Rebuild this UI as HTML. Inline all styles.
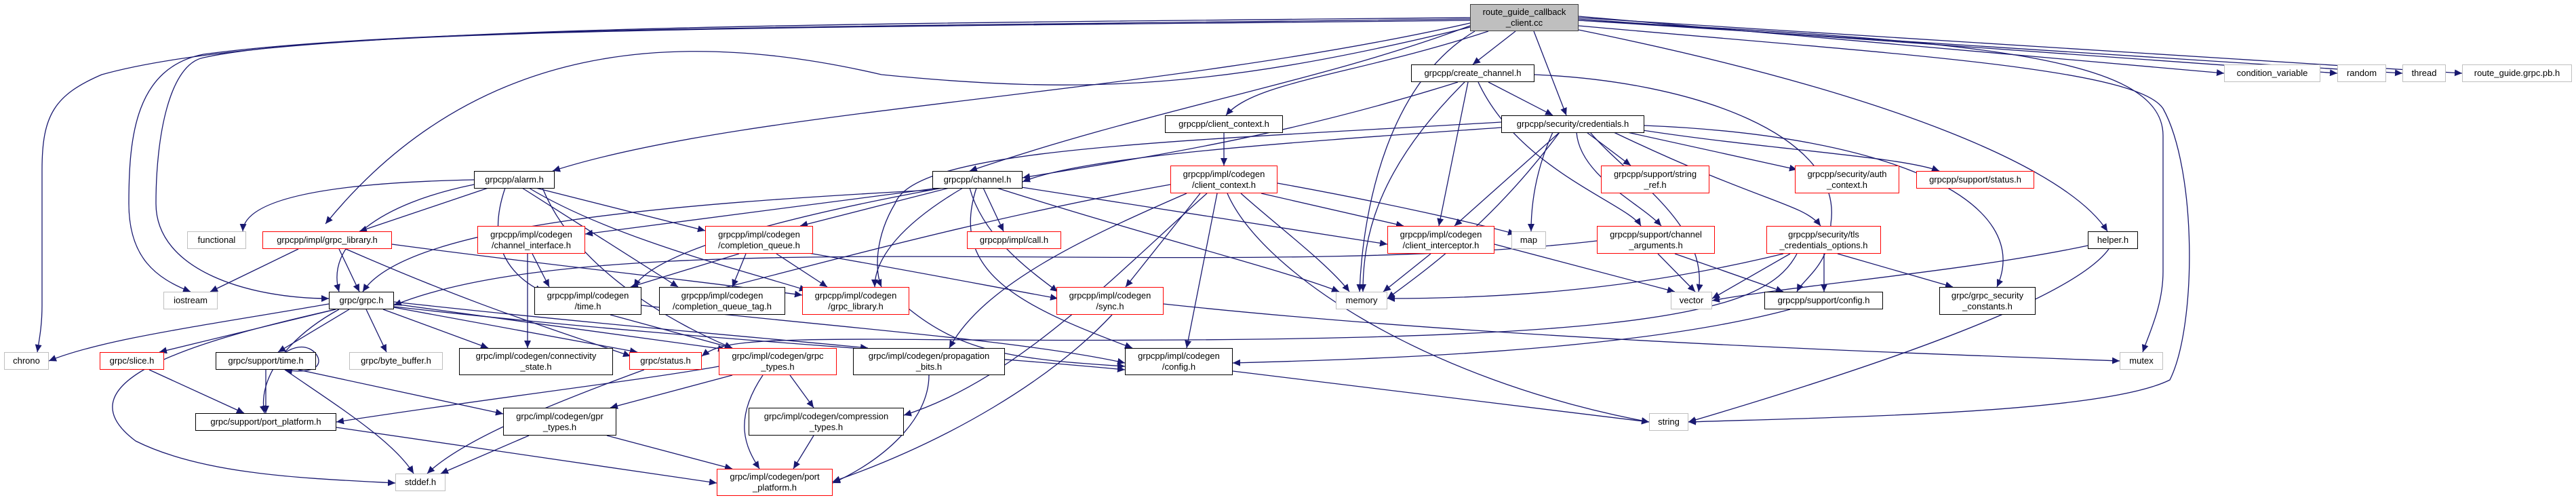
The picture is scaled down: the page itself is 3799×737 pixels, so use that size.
<!DOCTYPE html>
<html><head><meta charset="utf-8"><style>
html,body{margin:0;padding:0;background:#fff;}
#c{position:relative;width:3799px;height:737px;overflow:hidden;background:#fff;}
svg{position:absolute;left:0;top:0;}
.n{position:absolute;box-sizing:border-box;background:#fff;border:1.5px solid #000;font-family:"Liberation Sans",sans-serif;font-size:13px;line-height:16px;color:#000;display:flex;align-items:center;justify-content:center;text-align:center;white-space:nowrap;}
.r{border-color:#ff0000;}
.g{border-color:#bfbfbf;}
.root{background:#bfbfbf;border-color:#404040;}
</style></head><body><div id="c">
<svg width="3799" height="737" viewBox="0 0 3799 737">
<defs><marker id="a" markerUnits="userSpaceOnUse" markerWidth="12" markerHeight="10" refX="11" refY="5" orient="auto"><path d="M0,0 L11,5 L0,10 z" fill="#191970"/></marker></defs>
<g fill="none" stroke="#191970" stroke-width="1.3" marker-end="url(#a)">
<path d="M2235,46 L2172,95"/>
<path d="M2262,46 L2310,170"/>
<path d="M2195,46 C2000,110 1850,120 1808,170"/>
<path d="M2168,38 C1950,120 1700,160 1430,252"/>
<path d="M2168,34 C1700,140 1100,160 815,252"/>
<path d="M2175,46 C2050,120 2010,300 2005,430"/>
<path d="M2328,44 C2800,140 3050,250 3108,341"/>
<path d="M2328,30 C2900,60 3190,80 3190,200 L3190,400 C3190,450 3170,490 3160,519"/>
<path d="M2328,38 C2800,80 3150,100 3190,160 C3240,250 3240,480 3200,560 C3100,610 2700,615 2490,622"/>
<path d="M2328,24 L3280,108"/>
<path d="M2328,28 L3447,108"/>
<path d="M2328,30 L3543,108"/>
<path d="M2328,26 L3631,108"/>
<path d="M2168,28 C1200,40 600,40 300,80 C200,100 190,200 190,300 C190,380 230,410 281,430"/>
<path d="M2168,30 C1300,40 500,40 300,85 C250,95 230,200 230,300 C230,400 370,440 485,440"/>
<path d="M2168,26 C1100,36 400,40 150,110 C80,140 62,170 62,250 L62,450 C62,480 58,500 55,519"/>
<path d="M2168,40 C1800,130 1600,140 1300,110 C1000,40 700,60 480,330"/>
<path d="M2150,121 C1900,200 1700,230 1508,262"/>
<path d="M2195,121 L2290,170"/>
<path d="M2165,121 L2122,333"/>
<path d="M2180,121 C2240,250 2400,300 2420,333"/>
<path d="M2160,121 C2030,250 2010,350 2010,430"/>
<path d="M2263,110 C2500,120 2720,200 2700,330 C2700,390 2660,410 2650,430"/>
<path d="M1805,195 L1805,244"/>
<path d="M2214,188 C1900,210 1600,230 1508,268"/>
<path d="M2214,180 C1700,210 1350,220 1320,300 C1290,350 1290,400 1300,423"/>
<path d="M2300,195 L2145,333"/>
<path d="M2340,195 L2405,244"/>
<path d="M2325,195 C2330,260 2420,300 2450,333"/>
<path d="M2290,195 C2265,250 2258,300 2258,341"/>
<path d="M2300,195 C2200,330 2100,400 2046,440"/>
<path d="M2345,195 C2400,260 2520,330 2505,430"/>
<path d="M2400,195 L2650,250"/>
<path d="M2410,190 C2600,220 2800,230 2860,252"/>
<path d="M2380,195 C2600,300 2660,300 2685,333"/>
<path d="M2425,185 C2800,200 3000,300 2945,423"/>
<path d="M1375,280 C1000,300 600,330 535,430"/>
<path d="M1385,277 L863,345"/>
<path d="M1400,277 L1180,333"/>
<path d="M1450,277 L1480,341"/>
<path d="M1500,275 L2046,360"/>
<path d="M1420,277 C1330,330 1290,380 1290,423"/>
<path d="M1390,277 C1100,330 960,380 935,423"/>
<path d="M1430,277 C1450,350 1520,400 1560,430"/>
<path d="M1440,277 C1400,400 1500,450 1670,513"/>
<path d="M1470,277 C1700,350 1900,400 1975,430"/>
<path d="M1884,270 C2050,300 2180,330 2235,345"/>
<path d="M1860,285 L2070,333"/>
<path d="M1830,285 C1880,330 1960,390 1990,430"/>
<path d="M1810,285 C1860,400 2100,560 2432,622"/>
<path d="M1770,285 L1660,423"/>
<path d="M1795,285 L1750,513"/>
<path d="M1750,285 C1600,350 1450,420 1400,513"/>
<path d="M1780,285 C1650,400 1500,560 1333,612"/>
<path d="M1726,272 C1400,330 1100,420 1000,440"/>
<path d="M699,265 C450,270 360,300 358,341"/>
<path d="M720,277 L530,341"/>
<path d="M699,272 C560,300 480,360 500,430"/>
<path d="M790,277 L1040,340"/>
<path d="M780,277 C900,350 1100,400 1190,428"/>
<path d="M745,277 C720,350 740,400 800,430"/>
<path d="M770,277 L1000,423"/>
<path d="M800,277 C850,400 1000,480 1080,513"/>
<path d="M440,367 L310,430"/>
<path d="M500,367 L530,430"/>
<path d="M578,360 C800,390 1000,410 1183,435"/>
<path d="M510,367 C700,450 800,480 930,525"/>
<path d="M785,374 L810,423"/>
<path d="M778,374 L778,513"/>
<path d="M1090,374 L930,423"/>
<path d="M1100,374 L1080,423"/>
<path d="M1145,374 L1220,423"/>
<path d="M1175,370 C1350,400 1450,420 1560,440"/>
<path d="M2110,374 L2040,430"/>
<path d="M2204,360 L2470,430"/>
<path d="M2445,374 L2500,430"/>
<path d="M2355,355 C1800,420 900,320 581,450"/>
<path d="M2470,374 L2630,430"/>
<path d="M2630,374 C2400,430 2200,440 2046,440"/>
<path d="M2640,374 L2525,440"/>
<path d="M2690,374 L2690,430"/>
<path d="M2710,374 L2880,423"/>
<path d="M2650,374 C2600,470 2400,510 1300,500 C1100,500 1060,505 1035,525"/>
<path d="M3079,362 C2900,400 2650,420 2525,443"/>
<path d="M3110,367 C3050,450 2700,560 2490,622"/>
<path d="M900,464 L1080,513"/>
<path d="M946,450 C1200,480 1500,500 1659,535"/>
<path d="M1640,464 C1550,560 1400,650 1228,710"/>
<path d="M1716,448 C2200,500 2800,520 3126,532"/>
<path d="M2640,456 C2400,520 2000,530 1818,535"/>
<path d="M1340,455 C1420,520 1500,530 1659,540"/>
<path d="M485,448 C300,480 150,500 72,532"/>
<path d="M495,456 L235,519"/>
<path d="M515,456 L410,519"/>
<path d="M540,456 L570,519"/>
<path d="M565,456 L720,513"/>
<path d="M575,452 L940,519"/>
<path d="M581,448 L1070,515"/>
<path d="M581,445 C900,480 1150,500 1280,513"/>
<path d="M500,456 C420,500 380,560 390,609"/>
<path d="M495,456 C300,500 80,560 200,650 C300,700 450,705 583,712"/>
<path d="M581,452 C1000,500 1400,520 1659,545"/>
<path d="M392,545 L392,609"/>
<path d="M420,545 C500,600 580,650 610,698"/>
<path d="M440,545 L742,610"/>
<path d="M420,520 C450,500 470,520 470,532 C470,545 450,550 420,545"/>
<path d="M220,545 L360,609"/>
<path d="M1060,540 C950,560 700,590 496,622"/>
<path d="M950,545 C800,600 680,650 630,698"/>
<path d="M1080,553 L900,601"/>
<path d="M1165,553 L1200,601"/>
<path d="M1125,553 C1080,620 1100,660 1120,691"/>
<path d="M496,630 L1057,712"/>
<path d="M780,642 L650,698"/>
<path d="M895,642 L1080,691"/>
<path d="M1200,642 L1170,691"/>
<path d="M1370,553 C1370,620 1300,680 1228,712"/>
<path d="M1818,547 L2432,622"/>
</g>
</svg>
<div class="n root" style="left:2168px;top:6px;width:160px;height:40px;">route_guide_callback<br>_client.cc</div>
<div class="n" style="left:2081px;top:95px;width:182px;height:26px;">grpcpp/create_channel.h</div>
<div class="n" style="left:1718px;top:170px;width:174px;height:26px;">grpcpp/client_context.h</div>
<div class="n" style="left:2214px;top:170px;width:211px;height:26px;">grpcpp/security/credentials.h</div>
<div class="n g" style="left:3280px;top:95px;width:142px;height:26px;">condition_variable</div>
<div class="n g" style="left:3447px;top:95px;width:72px;height:26px;">random</div>
<div class="n g" style="left:3543px;top:95px;width:64px;height:26px;">thread</div>
<div class="n g" style="left:3631px;top:95px;width:162px;height:26px;">route_guide.grpc.pb.h</div>
<div class="n" style="left:699px;top:252px;width:119px;height:26px;">grpcpp/alarm.h</div>
<div class="n" style="left:1375px;top:252px;width:133px;height:26px;">grpcpp/channel.h</div>
<div class="n r" style="left:1726px;top:244px;width:158px;height:41px;">grpcpp/impl/codegen<br>/client_context.h</div>
<div class="n r" style="left:2361px;top:244px;width:160px;height:41px;">grpcpp/support/string<br>_ref.h</div>
<div class="n r" style="left:2647px;top:244px;width:154px;height:41px;">grpcpp/security/auth<br>_context.h</div>
<div class="n r" style="left:2826px;top:252px;width:174px;height:26px;">grpcpp/support/status.h</div>
<div class="n g" style="left:276px;top:341px;width:87px;height:26px;">functional</div>
<div class="n r" style="left:387px;top:341px;width:191px;height:26px;">grpcpp/impl/grpc_library.h</div>
<div class="n r" style="left:704px;top:333px;width:159px;height:41px;">grpcpp/impl/codegen<br>/channel_interface.h</div>
<div class="n r" style="left:1040px;top:333px;width:159px;height:41px;">grpcpp/impl/codegen<br>/completion_queue.h</div>
<div class="n r" style="left:1426px;top:341px;width:139px;height:26px;">grpcpp/impl/call.h</div>
<div class="n r" style="left:2046px;top:333px;width:158px;height:41px;">grpcpp/impl/codegen<br>/client_interceptor.h</div>
<div class="n g" style="left:2229px;top:341px;width:51px;height:26px;">map</div>
<div class="n r" style="left:2355px;top:333px;width:174px;height:41px;">grpcpp/support/channel<br>_arguments.h</div>
<div class="n r" style="left:2605px;top:333px;width:169px;height:41px;">grpcpp/security/tls<br>_credentials_options.h</div>
<div class="n" style="left:3079px;top:341px;width:74px;height:26px;">helper.h</div>
<div class="n g" style="left:241px;top:430px;width:80px;height:26px;">iostream</div>
<div class="n" style="left:485px;top:430px;width:96px;height:26px;">grpc/grpc.h</div>
<div class="n" style="left:788px;top:423px;width:158px;height:41px;">grpcpp/impl/codegen<br>/time.h</div>
<div class="n" style="left:972px;top:423px;width:186px;height:41px;">grpcpp/impl/codegen<br>/completion_queue_tag.h</div>
<div class="n r" style="left:1183px;top:423px;width:158px;height:41px;">grpcpp/impl/codegen<br>/grpc_library.h</div>
<div class="n r" style="left:1558px;top:423px;width:158px;height:41px;">grpcpp/impl/codegen<br>/sync.h</div>
<div class="n g" style="left:1970px;top:430px;width:76px;height:26px;">memory</div>
<div class="n g" style="left:2464px;top:430px;width:61px;height:26px;">vector</div>
<div class="n" style="left:2602px;top:430px;width:175px;height:26px;">grpcpp/support/config.h</div>
<div class="n" style="left:2860px;top:423px;width:142px;height:41px;">grpc/grpc_security<br>_constants.h</div>
<div class="n g" style="left:6px;top:519px;width:66px;height:26px;">chrono</div>
<div class="n r" style="left:147px;top:519px;width:95px;height:26px;">grpc/slice.h</div>
<div class="n" style="left:318px;top:519px;width:148px;height:26px;">grpc/support/time.h</div>
<div class="n g" style="left:515px;top:519px;width:138px;height:26px;">grpc/byte_buffer.h</div>
<div class="n" style="left:677px;top:513px;width:227px;height:40px;">grpc/impl/codegen/connectivity<br>_state.h</div>
<div class="n r" style="left:928px;top:519px;width:107px;height:26px;">grpc/status.h</div>
<div class="n r" style="left:1060px;top:513px;width:174px;height:40px;">grpc/impl/codegen/grpc<br>_types.h</div>
<div class="n" style="left:1258px;top:513px;width:224px;height:40px;">grpc/impl/codegen/propagation<br>_bits.h</div>
<div class="n" style="left:1659px;top:513px;width:159px;height:40px;">grpcpp/impl/codegen<br>/config.h</div>
<div class="n g" style="left:3126px;top:519px;width:64px;height:26px;">mutex</div>
<div class="n" style="left:288px;top:609px;width:208px;height:26px;">grpc/support/port_platform.h</div>
<div class="n" style="left:742px;top:601px;width:167px;height:41px;">grpc/impl/codegen/gpr<br>_types.h</div>
<div class="n" style="left:1104px;top:601px;width:229px;height:41px;">grpc/impl/codegen/compression<br>_types.h</div>
<div class="n g" style="left:2432px;top:609px;width:58px;height:26px;">string</div>
<div class="n g" style="left:583px;top:698px;width:74px;height:26px;">stddef.h</div>
<div class="n r" style="left:1057px;top:691px;width:171px;height:40px;">grpc/impl/codegen/port<br>_platform.h</div>
</div></body></html>
